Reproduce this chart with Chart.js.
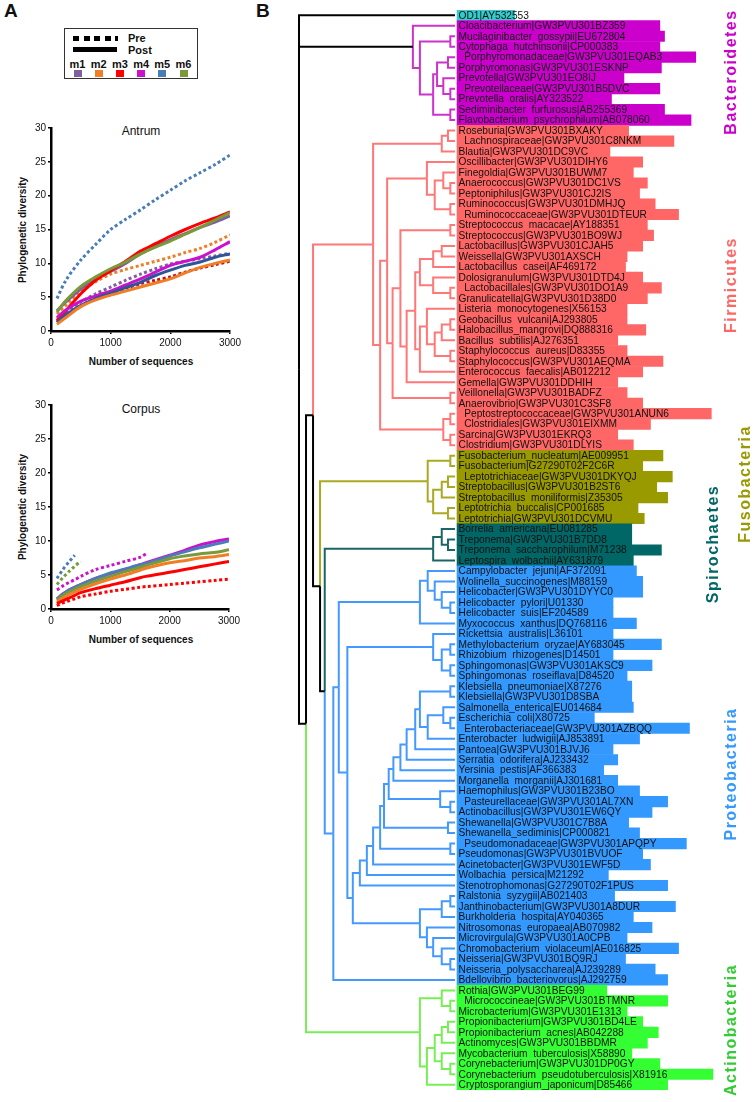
<!DOCTYPE html>
<html>
<head>
<meta charset="utf-8">
<script src="https://cdn.jsdelivr.net/npm/chart.js@4.4.1/dist/chart.umd.min.js"></script>
<style>
  body { margin: 0; background: #fff; font-family: "Liberation Sans", Arial, sans-serif; }
  #page { position: relative; width: 755px; height: 1102px; overflow: hidden; }
  canvas { position: absolute; }
  .txt { position: absolute; white-space: nowrap; color: #111; }
  .rot { transform: translate(-50%, -50%) rotate(-90deg); }
  .ctr { transform: translate(-50%, -50%); }
  .sw { position: absolute; width: 8px; height: 7px; }
  .dot { position: absolute; height: 5px; width: 6px; background: #000; }
</style>
</head>
<body>
<div id="page">
  <div class="txt" style="left:4px;top:0px;font:bold 19px 'Liberation Sans',Arial;">A</div>
  <div class="txt" style="left:256px;top:0px;font:bold 19px 'Liberation Sans',Arial;">B</div>

  <div id="legend" style="position:absolute;left:64px;top:28px;width:132px;height:49px;border:1.5px solid #333;">
    <div class="dot" style="left:8px;top:7px"></div>
    <div class="dot" style="left:18.5px;top:7px"></div>
    <div class="dot" style="left:29px;top:7px"></div>
    <div class="dot" style="left:39.5px;top:7px"></div>
    <div class="dot" style="left:50px;top:7px;width:3px"></div>
    <div class="txt" style="left:63px;top:3px;font:bold 11px 'Liberation Sans',Arial;">Pre</div>
    <div style="position:absolute;left:8px;top:18px;width:44px;height:5px;background:#000"></div>
    <div class="txt" style="left:63px;top:15px;font:bold 11px 'Liberation Sans',Arial;">Post</div>
    <div id="legendKeys"></div>
  </div>

  <div class="txt ctr" style="left:141px;top:131px;font:12px 'Liberation Sans',Arial;">Antrum</div>
  <div class="txt rot" style="left:22px;top:230px;font:bold 10px 'Liberation Sans',Arial;">Phylogenetic diversity</div>
  <div class="txt ctr" style="left:141px;top:361px;font:bold 10px 'Liberation Sans',Arial;">Number of sequences</div>

  <div class="txt ctr" style="left:141px;top:409px;font:12px 'Liberation Sans',Arial;">Corpus</div>
  <div class="txt rot" style="left:22px;top:507px;font:bold 10px 'Liberation Sans',Arial;">Phylogenetic diversity</div>
  <div class="txt ctr" style="left:141px;top:639px;font:bold 10px 'Liberation Sans',Arial;">Number of sequences</div>

  <canvas id="antrum" width="245" height="265" style="left:0;top:110px"></canvas>
  <canvas id="corpus" width="245" height="265" style="left:0;top:387px"></canvas>
  <canvas id="tree" width="465" height="1080" style="left:290px;top:10px"></canvas>
  <div id="phylaLabels"></div>
</div>

<script>
// ---------- panel A data ----------
const mice = ['m1', 'm2', 'm3', 'm4', 'm5', 'm6'];
const miceColors = ['#7F5FA0', '#F07E26', '#FF0000', '#CC11CC', '#4A7CBA', '#7A9A3A'];

const antrumSeq = [100, 250, 500, 750, 1000, 1250, 1500, 1750, 2000, 2250, 2500, 2750, 3000];
const antrumPreM1 = [1.8, 2.8, 4.3, 5.5, 6.5, 7.5, 8.4, 9.2, 9.9, 10.3, 10.7, 11.1, 11.5];
const antrumPreM2 = [2.5, 3.8, 5.8, 7.3, 8.4, 9.1, 9.7, 10.3, 10.9, 11.6, 12.2, 13.1, 14.2];
const antrumPreM3 = [1.3, 2.3, 3.7, 4.8, 5.6, 6.3, 7.0, 7.5, 8.0, 8.7, 9.3, 9.8, 10.3];
const antrumPreM5 = [4.8, 7.5, 10.5, 12.8, 15.0, 16.5, 17.9, 19.4, 20.8, 22.2, 23.4, 24.6, 26.0];
const antrumPostM1 = [3.0, 4.3, 6.2, 7.8, 8.8, 10.0, 11.4, 12.5, 13.5, 14.4, 15.3, 16.1, 17.0];
const antrumPostM2 = [1.0, 2.0, 3.6, 4.6, 5.3, 5.9, 6.5, 7.1, 7.7, 8.6, 9.4, 10.0, 10.5];
const antrumPostM3 = [1.5, 3.0, 5.5, 7.5, 8.9, 10.3, 11.8, 12.9, 14.0, 15.0, 15.9, 16.7, 17.6];
const antrumPostM4 = [2.0, 3.1, 4.4, 5.2, 5.9, 6.8, 7.7, 8.7, 9.7, 10.3, 10.9, 12.0, 13.2];
const antrumPostM5 = [1.3, 2.4, 3.8, 4.8, 5.6, 6.4, 7.2, 8.2, 9.0, 9.7, 10.2, 10.9, 11.4];
const antrumPostM6 = [2.8, 4.5, 6.6, 8.0, 9.2, 10.2, 11.4, 12.4, 13.3, 14.3, 15.3, 16.4, 17.5];

const corpusSeq = [100, 200, 300, 400, 500, 750, 1000, 1250, 1500, 1600, 2000, 2250, 2500, 2750, 3000];
const corpusPreM3 = [0.5, 0.9, 1.2, 1.5, 1.8, 2.2, 2.6, 2.9, 3.2, 3.3, 3.6, 3.8, 4.0, 4.2, 4.4];
const corpusPreM4 = [2.8, 3.4, 3.9, 4.3, 4.8, 5.8, 6.4, 7.0, 7.6, 8.1, null, null, null, null, null];
const corpusPreM5 = [4.5, 5.8, 6.9, 7.9, null, null, null, null, null, null, null, null, null, null, null];
const corpusPreM6 = [3.6, 4.6, 5.5, 6.3, 7.0, null, null, null, null, null, null, null, null, null, null];
const corpusPostM2 = [1.0, 1.6, 2.1, 2.5, 2.9, 3.7, 4.4, 5.0, 5.7, 6.0, 6.8, 7.1, 7.5, 7.7, 8.0];
const corpusPostM3 = [0.8, 1.2, 1.6, 2.0, 2.4, 3.0, 3.5, 4.0, 4.6, 4.8, 5.4, 5.8, 6.2, 6.6, 7.0];
const corpusPostM4 = [1.5, 2.2, 2.8, 3.2, 3.6, 4.5, 5.2, 5.8, 6.5, 6.8, 7.9, 8.6, 9.4, 9.9, 10.3];
const corpusPostM5 = [1.5, 2.2, 2.8, 3.2, 3.6, 4.5, 5.3, 5.9, 6.5, 6.7, 7.8, 8.4, 9.0, 9.5, 10.0];
const corpusPostM6 = [1.3, 2.0, 2.5, 2.9, 3.3, 4.1, 4.8, 5.5, 6.1, 6.4, 7.4, 7.8, 8.1, 8.3, 8.7];

const yTicks = [0, 5, 10, 15, 20, 25, 30];
const xTicks = [0, 1000, 2000, 3000];

// ---------- panel B data ----------
const taxa = [
  'OD1|AY532553',
  'Cloacibacterium|GW3PVU301BZ359', 'Mucilaginibacter gossypii|EU672804', 'Cytophaga hutchinsonii|CP000383',
  ' Porphyromonadaceae|GW3PVU301EQAB3', 'Porphyromonas|GW3PVU301ESKNP', 'Prevotella|GW3PVU301EO8IJ',
  ' Prevotellaceae|GW3PVU301B5DVC', 'Prevotella oralis|AY323522', 'Sediminibacter furfurosus|AB255369',
  'Flavobacterium psychrophilum|AB078060',
  'Roseburia|GW3PVU301BXAKY', ' Lachnospiraceae|GW3PVU301C8NKM', 'Blautia|GW3PVU301DC9VC',
  'Oscillibacter|GW3PVU301DIHY6', 'Finegoldia|GW3PVU301BUWM7', 'Anaerococcus|GW3PVU301DC1VS',
  'Peptoniphilus|GW3PVU301CJ2IS', 'Ruminococcus|GW3PVU301DMHJQ', ' Ruminococcaceae|GW3PVU301DTEUR',
  'Streptococcus macacae|AY188351', 'Streptococcus|GW3PVU301BO9WJ', 'Lactobacillus|GW3PVU301CJAH5',
  'Weissella|GW3PVU301AXSCH', 'Lactobacillus casei|AF469172', 'Dolosigranulum|GW3PVU301DTD4J',
  ' Lactobacillales|GW3PVU301DO1A9', 'Granulicatella|GW3PVU301D38D0', 'Listeria monocytogenes|X56153',
  'Geobacillus vulcani|AJ293805', 'Halobacillus_mangrovi|DQ888316', 'Bacillus subtilis|AJ276351',
  'Staphylococcus aureus|D83355', 'Staphylococcus|GW3PVU301AEQMA', 'Enterococcus faecalis|AB012212',
  'Gemella|GW3PVU301DDHIH', 'Veillonella|GW3PVU301BADFZ', 'Anaerovibrio|GW3PVU301C3SF8',
  ' Peptostreptococcaceae|GW3PVU301ANUN6', ' Clostridiales|GW3PVU301EIXMM', 'Sarcina|GW3PVU301EKRQ3',
  'Clostridium|GW3PVU301DLYIS',
  'Fusobacterium_nucleatum|AE009951', 'Fusobacterium|G27290T02F2C6R', ' Leptotrichiaceae|GW3PVU301DKYQJ',
  'Streptobacillus|GW3PVU301B2ST6', 'Streptobacillus moniliformis|Z35305', 'Leptotrichia buccalis|CP001685',
  'Leptotrichia|GW3PVU301DCVMU',
  'Borrelia americana|EU081285', 'Treponema|GW3PVU301B7DD8', 'Treponema saccharophilum|M71238',
  'Leptospira wolbachii|AY631879',
  'Campylobacter jejuni|AF372091', 'Wolinella_succinogenes|M88159', 'Helicobacter|GW3PVU301DYYC0',
  'Helicobacter pylori|U01330', 'Helicobacter suis|EF204589', 'Myxococcus xanthus|DQ768116',
  'Rickettsia australis|L36101', 'Methylobacterium oryzae|AY683045', 'Rhizobium rhizogenes|D14501',
  'Sphingomonas|GW3PVU301AKSC9', 'Sphingomonas roseiflava|D84520', 'Klebsiella pneumoniae|X87276',
  'Klebsiella|GW3PVU301D8SBA', 'Salmonella_enterica|EU014684', 'Escherichia coli|X80725',
  ' Enterobacteriaceae|GW3PVU301AZBQQ', 'Enterobacter ludwigii|AJ853891', 'Pantoea|GW3PVU301BJVJ6',
  'Serratia odorifera|AJ233432', 'Yersinia pestis|AF366383', 'Morganella morganii|AJ301681',
  'Haemophilus|GW3PVU301B23BO', ' Pasteurellaceae|GW3PVU301AL7XN', 'Actinobacillus|GW3PVU301EW6QY',
  'Shewanella|GW3PVU301C7B8A', 'Shewanella_sediminis|CP000821', ' Pseudomonadaceae|GW3PVU301APQPY',
  'Pseudomonas|GW3PVU301BVUOF', 'Acinetobacter|GW3PVU301EWF5D', 'Wolbachia persica|M21292',
  'Stenotrophomonas|G27290T02F1PUS', 'Ralstonia syzygii|AB021403', 'Janthinobacterium|GW3PVU301A8DUR',
  'Burkholderia hospita|AY040365', 'Nitrosomonas europaea|AB070982', 'Microvirgula|GW3PVU301A0CPB',
  'Chromobacterium violaceum|AE016825', 'Neisseria|GW3PVU301BQ9RJ', 'Neisseria_polysaccharea|AJ239289',
  'Bdellovibrio bacteriovorus|AJ292759',
  'Rothia|GW3PVU301BEG99', ' Micrococcineae|GW3PVU301BTMNR', 'Microbacterium|GW3PVU301E1313',
  'Propionibacterium|GW3PVU301BD4LE', 'Propionibacterium acnes|AB042288', 'Actinomyces|GW3PVU301BBDMR',
  'Mycobacterium tuberculosis|X58890', 'Corynebacterium|GW3PVU301DP0GY',
  'Corynebacterium pseudotuberculosis|X81916', 'Cryptosporangium_japonicum|D85466'
];

// label strip length behind each taxon (tree units)
const stripLength = [
  37,
  130, 133, 130, 153, 131, 107, 130, 99, 133, 150,
  110, 139, 98, 119, 113, 122, 117, 127, 142, 122, 126, 119, 109, 108, 119, 131, 122, 109, 109,
  121, 103, 109, 132, 119, 103, 109, 119, 163, 124, 103, 113,
  132, 119, 138, 128, 135, 116, 120,
  112, 112, 131, 113,
  115, 119, 119, 100, 100, 115, 100, 131, 100, 125, 109, 112, 112, 113, 88, 149, 117, 100, 103, 94,
  103, 117, 135, 125, 110, 117, 147, 119, 124, 97, 135, 101, 140, 113, 125, 109, 142, 108, 127, 135,
  96, 135, 109, 119, 129, 122, 112, 130, 164, 135
];

const phyla = ['OD1', 'Bacteroidetes', 'Firmicutes', 'Fusobacteria', 'Spirochaetes', 'Proteobacteria', 'Actinobacteria'];
const phylumSize = [1, 10, 31, 7, 4, 40, 10];
const phylumStrip = ['#33CCCC', '#CC00CC', '#FF6666', '#999900', '#006666', '#3399FF', '#33FF33'];
const phylumBranch = ['#000000', '#CC33CC', '#FF7777', '#AAAA22', '#1A6666', '#4499FF', '#77EE55'];
const phylumText = [null, '#CC00CC', '#FF6666', '#999900', '#006666', '#3399FF', '#33CC33'];
const phylumStemColoured = [false, false, true, true, true, true, true];

// tree: [node depth, ...children]; a number is a taxon row. tips are aligned at depth 100
const tipDepth = 100;
const stripStart = 101.3;
const bacteroidetes = [73, 1, [77.5, [97, 2, 3], [86, [88.5, [95.5, 4, 5], [92.5, 6, [97, 7, 8]]], [97, 9, 10]]]];
const firmicutes = [47.5,
  [91.5, [95.5, 11, 12], 13],
  [52,
    [56.5,
      [82, 14, [87, [92.5, 15, [97, 16, 17]], [97, 18, 19]]],
      [60,
        [65, [97, 20, 21],
          [69,
            [74.5,
              [77.5, [86, [91.5, 22, 23], 24], [86, 25, [97, 26, 27]]],
              [77.5, [82, 28, [87, [91.5, [97, 29, 30], 31], [97, 32, 33]]], 34]],
            35]],
        [97, 36, 37]]],
    [92.5, [97, 38, 39], [97, 40, 41]]]];
const fusobacteria = [82.5, [97, 42, 43], [86, [91.5, [95.5, 44, 45], 46], [95.5, 47, 48]]];
const spirochaetes = [86, [91.5, 49, [95.5, 50, 51]], 52];
const proteobacteria = [22,
  [25.5,
    [77.5, [82.5, 53, [87, 54, [91.5, 55, [97, 56, 57]]]], 58],
    [31,
      [86, 59, [91.5, [97, 60, 61], [97, 62, 63]]],
      [34.5,
        [39,
          [43.5,
            [47.5,
              [52,
                [54.5,
                  [57.5,
                    [60.5, [65, [69, [74.5, [77.5, [97, 64, 65], [82.5, [92.5, 66, [97, 67, 68]], 69]], 70], 71], 72], 73],
                    [90.5, 74, [97, 75, 76]]],
                  [95.5, 77, 78]],
                [97, 79, 80]],
              81],
            82],
          83],
        [77.5, [91.5, [97, 84, 85], 86], [82, 87, [86, 88, [91.5, 89, [97, 90, 91]]]]]]]],
  92];
const actinobacteria = [77.5, [91.5, 93, [97, 94, 95]],
  [82, [87, [91.5, [95.5, 96, 97], 98], [91.5, 99, [97, 100, 101]]], 102]];
const tree = [0, 0, bacteroidetes,
  [4.5, [9, firmicutes, [13.5, fusobacteria, [16.5, spirochaetes, proteobacteria]]], actinobacteria]];

// ---------- legend keys ----------
const keys = document.getElementById('legendKeys');
mice.forEach((m, i) => {
  const cx = 12.5 + i * 21.2;
  keys.insertAdjacentHTML('beforeend',
    `<div class="txt ctr" style="left:${cx}px;top:35px;font:bold 11px 'Liberation Sans',Arial;">${m}</div>` +
    `<div class="sw" style="left:${cx - 4}px;top:41px;background:${miceColors[i]}"></div>`);
});

// ---------- panel A charts ----------
function curve(xs, ys, color, dotted) {
  return {
    data: xs.map((x, i) => ({ x: x, y: ys[i] })),
    borderColor: color,
    borderWidth: 3,
    borderDash: dotted ? [3, 2.5] : [],
    borderCapStyle: 'butt',
    pointRadius: 0,
    tension: 0.3,
    fill: false
  };
}

function rarefaction(el, datasets, padRight, xHeight) {
  return new Chart(el, {
    type: 'line',
    data: { datasets: datasets },
    options: {
      responsive: false,
      animation: false,
      layout: { padding: { top: 18, right: padRight, left: 0, bottom: 0 } },
      plugins: { legend: { display: false }, tooltip: { enabled: false } },
      scales: {
        x: {
          type: 'linear', min: 0, max: 3000,
          afterBuildTicks: s => { s.ticks = xTicks.map(v => ({ value: v })); },
          afterFit: s => { s.height = xHeight; },
          ticks: { color: '#111', font: { family: 'Liberation Sans', size: 10 }, padding: 3, maxRotation: 0,
                   callback: v => String(v) },
          grid: { drawOnChartArea: false, color: '#000', lineWidth: 1.5, tickLength: 3 },
          border: { color: '#000', width: 2.5 }
        },
        y: {
          min: 0, max: 30,
          afterBuildTicks: s => { s.ticks = yTicks.map(v => ({ value: v })); },
          afterFit: s => { s.width = 51; },
          ticks: { color: '#111', font: { family: 'Liberation Sans', size: 10 }, padding: 2,
                   callback: v => String(v) },
          grid: { drawOnChartArea: false, color: '#000', lineWidth: 1.5, tickLength: 3 },
          border: { color: '#000', width: 2.5 }
        }
      }
    }
  });
}

rarefaction(document.getElementById('antrum'), [
  curve(antrumSeq, antrumPostM2, miceColors[1], false),
  curve(antrumSeq, antrumPostM5, '#2F5597', false),
  curve(antrumSeq, antrumPostM4, miceColors[3], false),
  curve(antrumSeq, antrumPostM6, miceColors[5], false),
  curve(antrumSeq, antrumPostM3, miceColors[2], false),
  curve(antrumSeq, antrumPostM1, miceColors[0], false),
  curve(antrumSeq, antrumPreM3, '#C0101A', true),
  curve(antrumSeq, antrumPreM1, miceColors[0], true),
  curve(antrumSeq, antrumPreM2, miceColors[1], true),
  curve(antrumSeq, antrumPreM5, miceColors[4], true)
], 15, 44);

rarefaction(document.getElementById('corpus'), [
  curve(corpusSeq, corpusPostM3, miceColors[2], false),
  curve(corpusSeq, corpusPostM2, miceColors[1], false),
  curve(corpusSeq, corpusPostM6, miceColors[5], false),
  curve(corpusSeq, corpusPostM5, miceColors[4], false),
  curve(corpusSeq, corpusPostM4, miceColors[3], false),
  curve(corpusSeq, corpusPreM3, miceColors[2], true),
  curve(corpusSeq, corpusPreM4, miceColors[3], true),
  curve(corpusSeq, corpusPreM6, miceColors[5], true),
  curve(corpusSeq, corpusPreM5, miceColors[4], true)
], 16, 43);

// ---------- panel B ----------
const phylumOf = [];
phylumSize.forEach((n, p) => { for (let i = 0; i < n; i++) phylumOf.push(p); });

const treePlugin = {
  id: 'treeLines',
  beforeDatasetsDraw(chart) {
    const xs = chart.scales.x, ys = chart.scales.y, ctx = chart.ctx;
    ctx.save();
    ctx.lineWidth = 2;
    ctx.lineCap = 'butt';
    ctx.lineJoin = 'miter';
    function walk(node) {
      if (typeof node === 'number') {
        return { x: xs.getPixelForValue(tipDepth), y: ys.getPixelForValue(node), ph: phylumOf[node] };
      }
      const kids = node.slice(1).map(walk);
      const x = xs.getPixelForValue(node[0]);
      const y = (kids[0].y + kids[kids.length - 1].y) / 2;
      const same = kids.every(k => k.ph === kids[0].ph);
      kids.forEach(k => {
        let colour = '#000';
        if (k.ph !== null && (same || phylumStemColoured[k.ph])) colour = phylumBranch[k.ph];
        ctx.strokeStyle = colour;
        ctx.beginPath();
        ctx.moveTo(x, y);
        ctx.lineTo(x, k.y);
        ctx.lineTo(k.x, k.y);
        ctx.stroke();
      });
      return { x: x, y: y, ph: same ? kids[0].ph : null };
    }
    walk(tree);
    ctx.restore();
  },
  afterDatasetsDraw(chart) {
    const xs = chart.scales.x, ys = chart.scales.y, ctx = chart.ctx;
    ctx.save();
    ctx.font = "10.2px 'Liberation Sans', Arial";
    ctx.fillStyle = '#111';
    ctx.textBaseline = 'middle';
    const x0 = xs.getPixelForValue(stripStart) + 1.5;
    taxa.forEach((t, i) => {
      ctx.fillText(t.replace(/ /g, '  '), x0, ys.getPixelForValue(i) + 0.5);
    });
    ctx.restore();
  }
};

new Chart(document.getElementById('tree'), {
  type: 'bar',
  data: {
    labels: taxa,
    datasets: [{
      data: stripLength.map(w => [stripStart, stripStart + w]),
      backgroundColor: phylumOf.map(p => phylumStrip[p]),
      borderWidth: 0,
      barPercentage: 1,
      categoryPercentage: 1
    }]
  },
  options: {
    indexAxis: 'y',
    responsive: false,
    animation: false,
    layout: { padding: 0 },
    plugins: { legend: { display: false }, tooltip: { enabled: false } },
    scales: {
      x: { display: false, min: -5.77, max: 292.3 },
      y: { display: false }
    }
  },
  plugins: [treePlugin]
});

// phylum names beside the strips
const phylaPos = [null, [731, 72], [731, 285], [745, 484], [713, 544], [731, 774], [731, 1030]];
const lab = document.getElementById('phylaLabels');
phyla.forEach((p, i) => {
  if (!phylaPos[i]) return;
  lab.insertAdjacentHTML('beforeend',
    `<div class="txt rot" style="left:${phylaPos[i][0]}px;top:${phylaPos[i][1]}px;font:bold 16px 'Liberation Sans',Arial;letter-spacing:1.5px;color:${phylumText[i]}">${p}</div>`);
});
</script>
</body>
</html>
